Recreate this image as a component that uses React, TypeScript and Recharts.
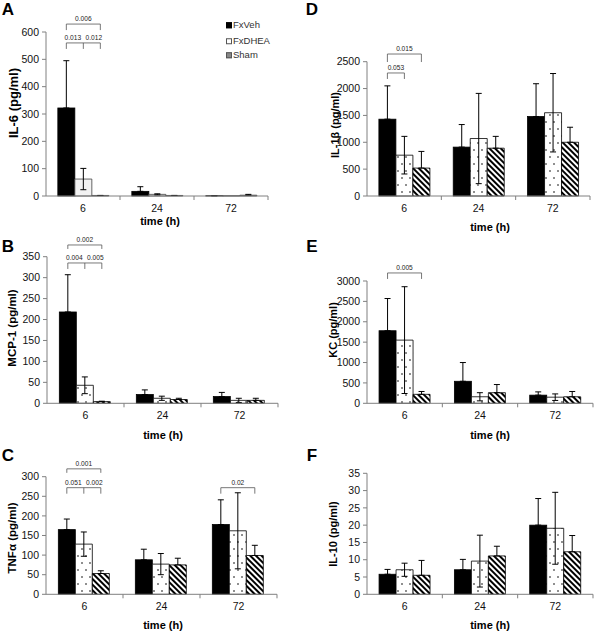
import React from 'react';
import { BarChart, Bar, XAxis, YAxis, ErrorBar } from 'recharts';

const FONT = '"Liberation Sans", Arial, sans-serif';

const timeCategories = ['6', '24', '72'];
const seriesNames = ['FxVeh', 'FxDHEA', 'Sham'];

// Panel A: IL-6
const il6Veh = [322, 17, 1];
const il6VehSd = [173, 17, 0];
const il6Dhea = [62, 6, 1];
const il6DheaSd = [39, 2, 0];
const il6Sham = [2, 2, 3];
const il6ShamSd = [0, 0, 3];
const il6Ticks = [0, 100, 200, 300, 400, 500, 600];

// Panel B: MCP-1
const mcpVeh = [218, 21, 16];
const mcpVehSd = [89, 11, 10];
const mcpDhea = [43, 12, 7];
const mcpDheaSd = [20, 5, 5];
const mcpSham = [4, 9, 7];
const mcpShamSd = [1, 3, 5];
const mcpTicks = [0, 50, 100, 150, 200, 250, 300, 350];

// Panel C: TNFα
const tnfVeh = [165, 88, 178];
const tnfVehSd = [27, 27, 63];
const tnfDhea = [128, 77, 162];
const tnfDheaSd = [31, 27, 97];
const tnfSham = [53, 75, 99];
const tnfShamSd = [7, 17, 26];
const tnfTicks = [0, 50, 100, 150, 200, 250, 300];

// Panel D: IL-1β
const il1Veh = [1430, 910, 1480];
const il1VehSd = [620, 420, 610];
const il1Dhea = [760, 1070, 1550];
const il1DheaSd = [350, 840, 730];
const il1Sham = [520, 890, 1000];
const il1ShamSd = [310, 220, 280];
const il1Ticks = [0, 500, 1000, 1500, 2000, 2500];

// Panel E: KC
const kcVeh = [1780, 540, 200];
const kcVehSd = [790, 460, 80];
const kcDhea = [1550, 160, 150];
const kcDheaSd = [1310, 100, 80];
const kcSham = [220, 260, 160];
const kcShamSd = [70, 200, 130];
const kcTicks = [0, 500, 1000, 1500, 2000, 2500, 3000];

// Panel F: IL-10
const il10Veh = [5.8, 7.1, 20];
const il10VehSd = [1.4, 3.0, 7.7];
const il10Dhea = [7.1, 9.6, 19.1];
const il10DheaSd = [1.9, 7.5, 10.4];
const il10Sham = [5.5, 11.1, 12.3];
const il10ShamSd = [4.3, 2.8, 4.7];
const il10Ticks = [0, 5, 10, 15, 20, 25, 30, 35];

type Bracket = { cat: string; from: number; to: number; level: number; leg: number; labels: string[] };

const il6Brackets: Bracket[] = [
  { cat: '6', from: 0, to: 2, level: 629, leg: 6, labels: ['0.006'] },
  { cat: '6', from: 0, to: 2, level: 560, leg: 6, labels: ['0.013', '0.012'] },
];
const mcpBrackets: Bracket[] = [
  { cat: '6', from: 0, to: 2, level: 378, leg: 4, labels: ['0.002'] },
  { cat: '6', from: 0, to: 2, level: 335, leg: 6, labels: ['0.004', '0.005'] },
];
const tnfBrackets: Bracket[] = [
  { cat: '6', from: 0, to: 2, level: 320, leg: 4, labels: ['0.001'] },
  { cat: '6', from: 0, to: 2, level: 272, leg: 6, labels: ['0.051', '0.002'] },
  { cat: '72', from: 0, to: 2, level: 272, leg: 6, labels: ['0.02'] },
];
const il1Brackets: Bracket[] = [
  { cat: '6', from: 0, to: 2, level: 2643, leg: 8, labels: ['0.015'] },
  { cat: '6', from: 0, to: 1, level: 2290, leg: 6, labels: ['0.053'] },
];
const kcBrackets: Bracket[] = [
  { cat: '6', from: 0, to: 2, level: 3197, leg: 6, labels: ['0.005'] },
];

type PanelProps = {
  id: string;
  letter: string;
  yLabel: string;
  left: number;
  top: number;
  plotL: number;
  plotR: number;
  plotT: number;
  plotB: number;
  veh: number[];
  vehSd: number[];
  dhea: number[];
  dheaSd: number[];
  sham: number[];
  shamSd: number[];
  ticks: number[];
  brackets: Bracket[];
  excel?: boolean;
  letterPos: [number, number];
  yLabelPos: [number, number];
  yLabelSize: number;
  timePos: [number, number];
};

function Panel(p: PanelProps) {
  const W = 300;
  const H = p.plotB - p.top + 40;
  const yAxisW = 30;
  const xAxisH = 30;
  const margin = {
    top: p.plotT - p.top,
    right: p.left + W - p.plotR,
    bottom: H - (p.plotB - p.top) - xAxisH,
    left: p.plotL - p.left - yAxisW,
  };
  const band = (p.plotR - p.plotL) / timeCategories.length;
  const data = timeCategories.map((c, i) => ({
    cat: c,
    veh: p.veh[i],
    vehSd: [0, p.vehSd[i]],
    dhea: p.dhea[i],
    dheaSd: p.dheaSd[i],
    sham: p.sham[i],
    shamSd: [0, p.shamSd[i]],
  }));
  const dotId = `dots-${p.id}`;
  const hatchId = `hatch-${p.id}`;
  const vehFill = '#000';
  const dheaFill = p.excel ? '#f2f2f2' : `url(#${dotId})`;
  const shamFill = p.excel ? '#808080' : `url(#${hatchId})`;
  const barStroke = p.excel ? '#404040' : '#000';
  const axisColor = '#808080';
  const txt = { fontSize: 6.6, fill: '#222', stroke: 'none', fontFamily: FONT } as const;

  const vehShape = (sp: any) => {
    const { x, y, width, height, payload } = sp;
    const value = payload.veh;
    const k = value > 0 ? height / value : 0;
    const y0 = y + height;
    const cx = (j: number) => x + width * (j + 0.5);
    const bs = p.brackets.filter((b) => b.cat === payload.cat);
    return (
      <g>
        <rect x={x} y={y} width={width} height={Math.max(height, 0)} fill={vehFill} stroke="#000" strokeWidth={0.8} />
        {bs.map((b, i) => {
          const yl = y0 - b.level * k;
          const x1 = cx(b.from);
          const x2 = cx(b.to);
          const xm = (x1 + x2) / 2;
          const two = b.labels.length === 2;
          return (
            <g key={i} stroke="#555" strokeWidth={0.8} fill="none">
              <line x1={x1} y1={yl} x2={x2} y2={yl} />
              <line x1={x1} y1={yl} x2={x1} y2={yl + b.leg} />
              <line x1={x2} y1={yl} x2={x2} y2={yl + b.leg} />
              {two && <line x1={xm} y1={yl} x2={xm} y2={yl + b.leg} />}
              {two ? (
                <>
                  <text x={xm - 10.5} y={yl - 3} textAnchor="middle" {...txt}>
                    {b.labels[0]}
                  </text>
                  <text x={xm + 10.5} y={yl - 3} textAnchor="middle" {...txt}>
                    {b.labels[1]}
                  </text>
                </>
              ) : (
                <text x={xm} y={yl - 3} textAnchor="middle" {...txt}>
                  {b.labels[0]}
                </text>
              )}
            </g>
          );
        })}
      </g>
    );
  };

  const catTick = (tp: any) => {
    const { x, y, payload } = tp;
    return (
      <g>
        <text x={x} y={y + 15.5} textAnchor="middle" fontSize={10.5} fill="#111" fontFamily={FONT}>
          {payload.value}
        </text>
        <line x1={x + band / 2} y1={y} x2={x + band / 2} y2={y + 4} stroke={axisColor} strokeWidth={1} />
      </g>
    );
  };

  return (
    <>
      <div style={{ position: 'absolute', left: p.left, top: p.top }}>
        <BarChart width={W} height={H} data={data} margin={margin} barGap={0} barCategoryGap="16%">
          <defs>
            <pattern id={dotId} patternUnits="userSpaceOnUse" width={8} height={14}>
              <rect x={0} y={0} width={8} height={14} fill="#fff" />
              <circle cx={2} cy={3} r={0.8} fill="#000" />
              <circle cx={6} cy={10} r={0.8} fill="#000" />
            </pattern>
            <pattern id={hatchId} patternUnits="userSpaceOnUse" width={4} height={4} patternTransform="rotate(-45)">
              <rect x={0} y={0} width={4} height={4} fill="#fff" />
              <rect x={0} y={0} width={2} height={4} fill="#000" />
            </pattern>
          </defs>
          <XAxis
            dataKey="cat"
            height={xAxisH}
            interval={0}
            tickLine={false}
            tickSize={0}
            tickMargin={0}
            axisLine={{ stroke: axisColor }}
            tick={catTick}
          />
          <YAxis
            width={yAxisW}
            domain={[0, p.ticks[p.ticks.length - 1]]}
            ticks={p.ticks}
            interval={0}
            tickSize={4}
            tickMargin={3}
            axisLine={{ stroke: axisColor }}
            tickLine={{ stroke: axisColor }}
            tick={{ fontSize: 10.5, fill: '#111', fontFamily: FONT }}
          />
          <Bar dataKey="veh" name={seriesNames[0]} fill={vehFill} isAnimationActive={false} shape={vehShape}>
            <ErrorBar dataKey="vehSd" direction="y" width={3} stroke="#000" strokeWidth={1} />
          </Bar>
          <Bar dataKey="dhea" name={seriesNames[1]} fill={dheaFill} stroke={barStroke} strokeWidth={0.8} isAnimationActive={false}>
            <ErrorBar dataKey="dheaSd" direction="y" width={3} stroke="#000" strokeWidth={1} />
          </Bar>
          <Bar dataKey="sham" name={seriesNames[2]} fill={shamFill} stroke={barStroke} strokeWidth={0.8} isAnimationActive={false}>
            <ErrorBar dataKey="shamSd" direction="y" width={3} stroke="#000" strokeWidth={1} />
          </Bar>
        </BarChart>
      </div>
      <div
        style={{
          position: 'absolute',
          left: p.letterPos[0],
          top: p.letterPos[1],
          transform: 'translate(-50%, -50%)',
          fontFamily: FONT,
          fontWeight: 'bold',
          fontSize: 17,
          lineHeight: 1,
        }}
      >
        {p.letter}
      </div>
      <div
        style={{
          position: 'absolute',
          left: p.yLabelPos[0],
          top: p.yLabelPos[1],
          transform: 'translate(-50%, -50%) rotate(-90deg)',
          fontFamily: FONT,
          fontWeight: 'bold',
          fontSize: p.yLabelSize,
          whiteSpace: 'nowrap',
          lineHeight: 1,
        }}
      >
        {p.yLabel}
      </div>
      <div
        style={{
          position: 'absolute',
          left: p.timePos[0],
          top: p.timePos[1],
          transform: 'translate(-50%, -50%)',
          fontFamily: FONT,
          fontWeight: 'bold',
          fontSize: 11,
          whiteSpace: 'nowrap',
          lineHeight: 1,
        }}
      >
        time (h)
      </div>
    </>
  );
}

function LegendA() {
  const swatches = [
    { fill: '#000', stroke: '#000' },
    { fill: '#fff', stroke: '#555' },
    { fill: '#888', stroke: '#555' },
  ];
  const rowsY = [25, 41, 55];
  return (
    <>
      {seriesNames.map((n, i) => (
        <div
          key={n}
          style={{
            position: 'absolute',
            left: 226,
            top: rowsY[i],
            transform: 'translateY(-50%)',
            display: 'flex',
            alignItems: 'center',
            fontFamily: FONT,
            fontSize: 9.5,
            color: '#333',
            lineHeight: 1,
          }}
        >
          <span
            style={{
              display: 'inline-block',
              width: 4,
              height: 4,
              background: swatches[i].fill,
              border: `1px solid ${swatches[i].stroke}`,
              marginRight: 1,
            }}
          />
          {n}
        </div>
      ))}
    </>
  );
}

export default function App() {
  return (
    <div style={{ position: 'absolute', left: 0, top: 0, width: 600, height: 632, overflow: 'hidden', background: '#fff' }}>
      <Panel
        id="a"
        letter="A"
        yLabel="IL-6 (pg/ml)"
        left={0}
        top={0}
        plotL={46}
        plotR={268}
        plotT={32}
        plotB={196}
        veh={il6Veh}
        vehSd={il6VehSd}
        dhea={il6Dhea}
        dheaSd={il6DheaSd}
        sham={il6Sham}
        shamSd={il6ShamSd}
        ticks={il6Ticks}
        brackets={il6Brackets}
        excel
        letterPos={[8, 9]}
        yLabelPos={[13, 103]}
        yLabelSize={13}
        timePos={[160, 221]}
      />
      <LegendA />
      <Panel
        id="b"
        letter="B"
        yLabel="MCP-1 (pg/ml)"
        left={0}
        top={210}
        plotL={47}
        plotR={278}
        plotT={256.7}
        plotB={403.3}
        veh={mcpVeh}
        vehSd={mcpVehSd}
        dhea={mcpDhea}
        dheaSd={mcpDheaSd}
        sham={mcpSham}
        shamSd={mcpShamSd}
        ticks={mcpTicks}
        brackets={mcpBrackets}
        letterPos={[8, 246]}
        yLabelPos={[13, 328]}
        yLabelSize={11.5}
        timePos={[163, 435]}
      />
      <Panel
        id="c"
        letter="C"
        yLabel="TNFα (pg/ml)"
        left={0}
        top={420}
        plotL={46}
        plotR={277}
        plotT={476.7}
        plotB={594.3}
        veh={tnfVeh}
        vehSd={tnfVehSd}
        dhea={tnfDhea}
        dheaSd={tnfDheaSd}
        sham={tnfSham}
        shamSd={tnfShamSd}
        ticks={tnfTicks}
        brackets={tnfBrackets}
        letterPos={[8, 455]}
        yLabelPos={[13, 538]}
        yLabelSize={11.5}
        timePos={[163, 625]}
      />
      <Panel
        id="d"
        letter="D"
        yLabel="IL-1β (pg/ml)"
        left={300}
        top={0}
        plotL={367}
        plotR={590}
        plotT={61.7}
        plotB={196}
        veh={il1Veh}
        vehSd={il1VehSd}
        dhea={il1Dhea}
        dheaSd={il1DheaSd}
        sham={il1Sham}
        shamSd={il1ShamSd}
        ticks={il1Ticks}
        brackets={il1Brackets}
        letterPos={[312, 9]}
        yLabelPos={[335, 125]}
        yLabelSize={11}
        timePos={[490, 227]}
      />
      <Panel
        id="e"
        letter="E"
        yLabel="KC (pg/ml)"
        left={300}
        top={210}
        plotL={367}
        plotR={593}
        plotT={281}
        plotB={403.3}
        veh={kcVeh}
        vehSd={kcVehSd}
        dhea={kcDhea}
        dheaSd={kcDheaSd}
        sham={kcSham}
        shamSd={kcShamSd}
        ticks={kcTicks}
        brackets={kcBrackets}
        letterPos={[312, 246]}
        yLabelPos={[333, 330]}
        yLabelSize={11}
        timePos={[490, 435]}
      />
      <Panel
        id="f"
        letter="F"
        yLabel="IL-10 (pg/ml)"
        left={300}
        top={420}
        plotL={367}
        plotR={593}
        plotT={473.3}
        plotB={594.3}
        veh={il10Veh}
        vehSd={il10VehSd}
        dhea={il10Dhea}
        dheaSd={il10DheaSd}
        sham={il10Sham}
        shamSd={il10ShamSd}
        ticks={il10Ticks}
        brackets={[]}
        letterPos={[312, 455]}
        yLabelPos={[333, 534]}
        yLabelSize={11}
        timePos={[490, 625]}
      />
    </div>
  );
}
